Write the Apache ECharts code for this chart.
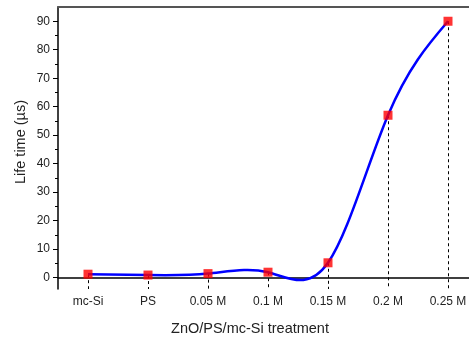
<!DOCTYPE html>
<html>
<head>
<meta charset="utf-8">
<script src="https://cdn.jsdelivr.net/npm/echarts@6/dist/echarts.min.js"></script>
<style>
  html, body { margin: 0; padding: 0; background: #fff; }
  #chart { width: 469px; height: 339px; }
</style>
</head>
<body>
<div id="chart"></div>
<script>
// data
const treatments = ['mc-Si', 'PS', '0.05 M', '0.1 M', '0.15 M', '0.2 M', '0.25 M'];
const lifeTimes = [1.2, 0.9, 1.4, 1.9, 5.2, 57, 90];
const majorTicks = [0, 10, 20, 30, 40, 50, 60, 70, 80, 90];
const minorTicks = [-5, 5, 15, 25, 35, 45, 55, 65, 75, 85];

const yMin = -4;
const yMax = 95;
const font = 'Liberation Sans, Arial, sans-serif';

const chart = echarts.init(document.getElementById('chart'), null, { renderer: 'canvas' });

// natural cubic spline slopes (unit spacing between categories)
function splineSlopes(y) {
    const n = y.length;
    const M = new Array(n).fill(0);
    // tridiagonal solve for second derivatives, natural ends
    const c = new Array(n).fill(0), d = new Array(n).fill(0);
    for (let i = 1; i < n - 1; i++) {
        const rhs = 6 * (y[i + 1] - 2 * y[i] + y[i - 1]);
        const den = 4 - c[i - 1];
        c[i] = 1 / den;
        d[i] = (rhs - d[i - 1]) / den;
    }
    for (let i = n - 2; i >= 1; i--) {
        M[i] = d[i] - c[i] * M[i + 1];
    }
    const m = [];
    for (let i = 0; i < n - 1; i++) {
        m.push((y[i + 1] - y[i]) - (2 * M[i] + M[i + 1]) / 6);
    }
    m.push((y[n - 1] - y[n - 2]) + (M[n - 2] + 2 * M[n - 1]) / 6);
    return m;
}

const slopes = splineSlopes(lifeTimes);

function renderSpline(params, api) {
    if (params.dataIndex !== 0) return;
    const pts = lifeTimes.map((v, i) => api.coord([i, v]));
    const ySlope = api.size([0, 1])[1]; // pixels per unit
    let d = 'M' + pts[0][0] + ' ' + pts[0][1];
    for (let i = 0; i < pts.length - 1; i++) {
        const dx = (pts[i + 1][0] - pts[i][0]) / 3;
        const c1 = [pts[i][0] + dx, pts[i][1] - slopes[i] / 3 * ySlope];
        const c2 = [pts[i + 1][0] - dx, pts[i + 1][1] + slopes[i + 1] / 3 * ySlope];
        d += ' C' + c1.join(' ') + ' ' + c2.join(' ') + ' ' + pts[i + 1].join(' ');
    }
    return {
        type: 'path',
        shape: { pathData: d },
        style: { fill: 'none', stroke: '#0000ff', lineWidth: 2.5 }
    };
}

// dashed drop lines from each point to the x axis
const dropLines = treatments.map((t, i) => [
    { coord: [t, lifeTimes[i]] },
    { coord: [t, yMin] }
]);

const option = {
    backgroundColor: '#fff',
    animation: false,
    grid: { left: 58, top: 7, right: -9, bottom: 50, containLabel: false, outerBoundsMode: 'none' },
    xAxis: [
        {
            type: 'category',
            data: treatments,
            boundaryGap: true,
            name: 'ZnO/PS/mc-Si treatment',
            nameLocation: 'middle',
            nameGap: 32,
            nameMoveOverlap: false,
            nameTextStyle: { fontFamily: font, fontSize: 14.5, color: '#222', padding: [0, 36, 0, 0] },
            axisLine: { lineStyle: { color: '#000', width: 1.5 } },
            axisTick: { alignWithLabel: true, length: 4, lineStyle: { color: '#000' } },
            axisLabel: { fontFamily: font, fontSize: 12, color: '#222', margin: 7 },
            splitLine: { show: false }
        },
        {
            // inward boundary ticks on the bottom axis
            type: 'category',
            data: treatments,
            position: 'bottom',
            boundaryGap: true,
            axisLine: { show: false },
            axisTick: { inside: true, length: 3, lineStyle: { color: '#000' } },
            axisLabel: { show: false },
            splitLine: { show: false }
        },
        {
            // top frame line
            type: 'category',
            data: treatments,
            position: 'top',
            axisLine: { lineStyle: { color: '#555', width: 2 } },
            axisTick: { show: false },
            axisLabel: { show: false },
            splitLine: { show: false }
        }
    ],
    yAxis: [
        {
            type: 'value',
            min: yMin,
            max: yMax,
            name: 'Life time (\u00b5s)',
            nameLocation: 'middle',
            nameGap: 30,
            nameMoveOverlap: false,
            nameTextStyle: { fontFamily: font, fontSize: 14.5, color: '#222', padding: [0, 0, 0, 12] },
            axisLine: { show: true, lineStyle: { color: '#000', width: 1.5 } },
            axisTick: { show: true, length: 5, customValues: majorTicks, lineStyle: { color: '#000' } },
            axisLabel: { fontFamily: font, fontSize: 12, color: '#222', margin: 8, customValues: majorTicks },
            splitLine: { show: false }
        },
        {
            // minor ticks
            type: 'value',
            min: yMin,
            max: yMax,
            position: 'left',
            axisLine: { show: false },
            axisTick: { show: true, length: 3, customValues: minorTicks, lineStyle: { color: '#000' } },
            axisLabel: { show: false },
            splitLine: { show: false }
        }
    ],
    series: [
        {
            type: 'custom',
            renderItem: renderSpline,
            data: lifeTimes.map((v, i) => [i, v]),
            encode: { x: 0, y: 1 },
            silent: true,
            z: 3
        },
        {
            type: 'scatter',
            data: lifeTimes,
            symbol: 'rect',
            symbolSize: 9,
            itemStyle: { color: '#ff0000' },
            z: 5,
            markLine: {
                silent: true,
                symbol: ['none', 'none'],
                label: { show: false },
                lineStyle: { color: '#000', type: [3, 3], width: 1 },
                data: dropLines,
                z: 2
            }
        }
    ]
};

chart.setOption(option);
</script>
</body>
</html>
